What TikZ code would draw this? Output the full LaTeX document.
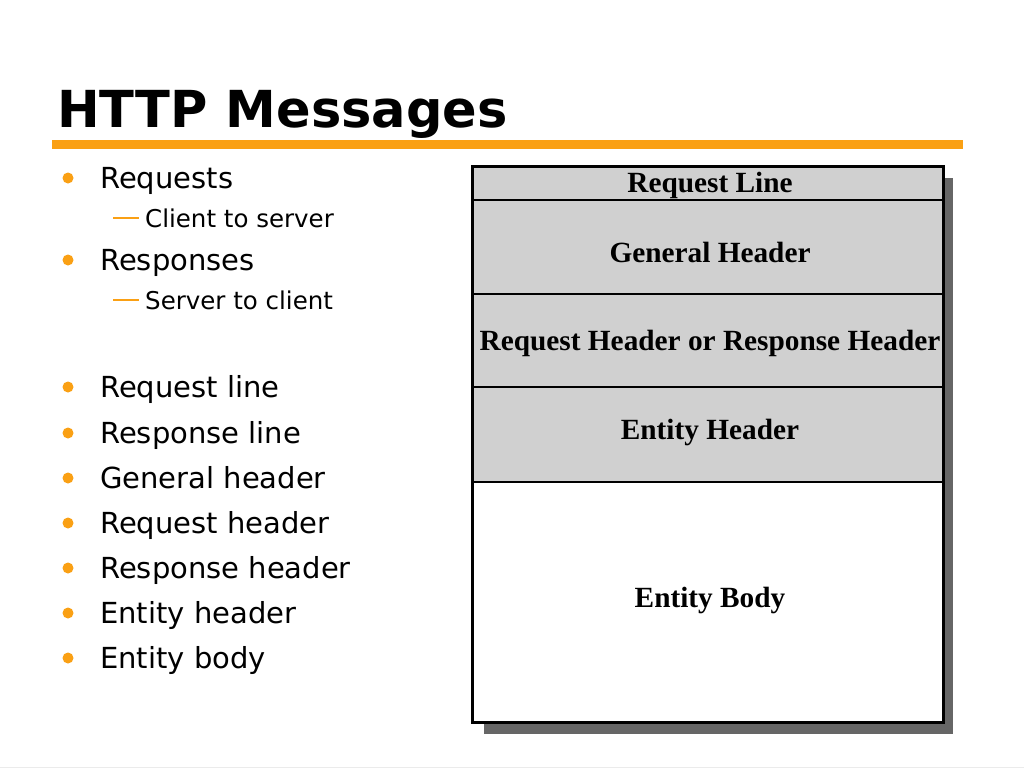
\documentclass[tikz,border=0pt]{standalone}
\usepackage{fontspec}
\setmainfont{Liberation Serif}
\newfontfamily\vfont{DejaVu Sans}
\definecolor{orng}{RGB}{250,160,20}
\definecolor{rowgray}{RGB}{208,208,208}
\definecolor{shadowgray}{RGB}{102,102,102}
\begin{document}
\begin{tikzpicture}[x=1pt,y=-1pt,
  title/.style={anchor=base west,inner sep=0pt,font=\vfont\bfseries\fontsize{51}{51}\selectfont},
  item/.style={anchor=base west,inner sep=0pt,font=\vfont\fontsize{29}{29}\selectfont},
  subitem/.style={anchor=base west,inner sep=0pt,font=\vfont\fontsize{24.5}{24.5}\selectfont},
  dot/.style={circle,fill=orng,inner sep=0pt,minimum size=11pt},
  row/.style={draw=black,line width=2.2pt,inner sep=0pt,outer sep=0pt,anchor=north west,minimum width=471pt},
  rowtext/.style={anchor=base,inner sep=0pt,font=\bfseries\fontsize{29.3}{29.3}\selectfont}]
\useasboundingbox (0,0) rectangle (1024,768);
\fill[white] (0,0) rectangle (1024,768);
% title and rule
\node[title] (title) at (57,127) {HTTP Messages};
\fill[orng] (52,140) rectangle (963,149);
% bullets
\foreach \n/\y/\t in {a/188/Requests, b/270/Responses, c/397/Request line, d/443/Response line, e/488/General header, f/533/Request header, g/578/Response header, h/623/Entity header, i/668/Entity body}{
  \node[dot] (dot\n) at (68,\y-10) {};
  \node[item] (item\n) at (100,\y) {\t};
}
\foreach \n/\y/\t in {a/227/Client to server, b/309/Server to client}{
  \coordinate (dsA\n) at (113,\y-9);
  \coordinate (dsB\n) at (139,\y-9);
  \draw[orng,line width=1.5pt] (dsA\n) -- (dsB\n);
  \node[subitem] (sub\n) at (145,\y) {\t};
}
% shadow
\fill[shadowgray] (484,178) rectangle (953,734);
% rows
\node[row,fill=rowgray,minimum height=34pt] (r1) at (472,166) {};
\node[row,fill=rowgray,minimum height=94pt] (r2) at (r1.south west) {};
\node[row,fill=rowgray,minimum height=93pt] (r3) at (r2.south west) {};
\node[row,fill=rowgray,minimum height=95pt] (r4) at (r3.south west) {};
\node[row,fill=white,minimum height=240pt] (r5) at (r4.south west) {};
\draw[line width=3pt] (r1.north west) rectangle (r5.south east);
% row labels
\node[rowtext] (t1) at (710,192) {Request Line};
\node[rowtext] (t2) at (710,262) {General Header};
\node[rowtext] (t3) at (710,350) {Request Header or Response Header};
\node[rowtext] (t4) at (710,439) {Entity Header};
\node[rowtext] (t5) at (710,607) {Entity Body};
% footer line
\draw[black!8,line width=1pt] (0,767) -- (1024,767);
\end{tikzpicture}
\end{document}
